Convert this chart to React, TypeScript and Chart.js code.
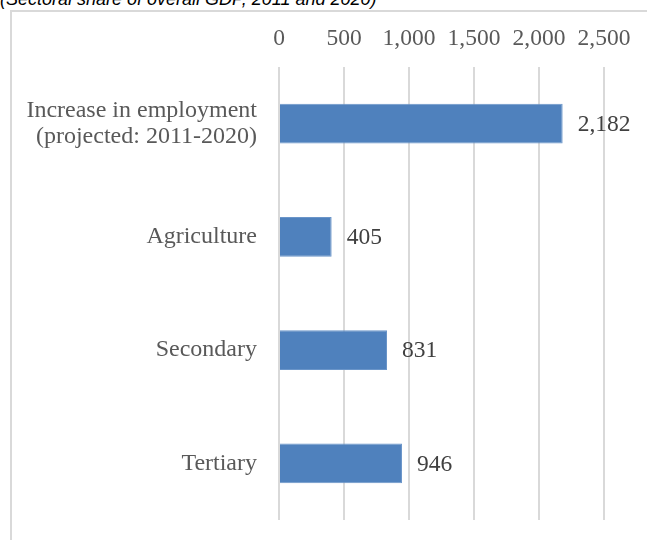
import React, { useEffect, useRef } from "react";
import { Chart, registerables } from "chart.js";

Chart.register(...registerables);

const categories: (string | string[])[] = [
  ["Increase in employment", "(projected: 2011-2020)"],
  "Agriculture",
  "Secondary",
  "Tertiary",
];
const values = [2182, 405, 831, 946];
const xTicks = [0, 500, 1000, 1500, 2000, 2500];
const titleText = "(Sectoral share of overall GDP, 2011 and 2020)";

const SERIF = "'Liberation Serif', 'Times New Roman', serif";

const valueLabels = {
  id: "valueLabels",
  afterDatasetsDraw(chart: any) {
    const ctx = chart.ctx;
    const meta = chart.getDatasetMeta(0);
    ctx.save();
    ctx.font = `23.5px ${SERIF}`;
    ctx.fillStyle = "#404040";
    ctx.textAlign = "left";
    ctx.textBaseline = "middle";
    meta.data.forEach((bar: any, i: number) => {
      const v = chart.data.datasets[0].data[i] as number;
      ctx.fillText(v.toLocaleString("en-US"), bar.x + 15, bar.y + 1);
    });
    ctx.restore();
  },
};

export default function App() {
  const ref = useRef<HTMLCanvasElement>(null);
  useEffect(() => {
    if (!ref.current) return;
    const chart = new Chart(ref.current, {
      type: "bar",
      data: {
        labels: categories,
        datasets: [
          {
            data: values,
            backgroundColor: "#4f81bd",
            borderColor: "#6a95c9",
            borderWidth: 1,
            barPercentage: 0.353,
            categoryPercentage: 1,
          },
        ],
      },
      options: {
        indexAxis: "y",
        animation: false,
        responsive: false,
        maintainAspectRatio: false,
        layout: { padding: { left: 0, right: 43, top: 0, bottom: 20 } },
        plugins: {
          legend: { display: false },
          tooltip: { enabled: false },
          title: { display: false },
        },
        scales: {
          x: {
            position: "top",
            min: 0,
            max: 2500,
            afterBuildTicks: (scale: any) => {
              scale.ticks = xTicks.map((v) => ({ value: v }));
            },
            afterFit: (scale: any) => {
              scale.height = 67;
              scale.paddingLeft = 0;
              scale.paddingRight = 0;
            },
            grid: { color: "#d9d9d9", lineWidth: 2, drawTicks: false },
            border: { display: false },
            ticks: {
              padding: 14,
              color: "#595959",
              font: { family: SERIF, size: 23.5 },
              callback: (v: any) => Number(v).toLocaleString("en-US"),
            },
          },
          y: {
            afterFit: (scale: any) => {
              scale.width = 279;
              scale.paddingTop = 0;
              scale.paddingBottom = 0;
            },
            grid: { display: false, drawTicks: false },
            border: { display: false },
            ticks: {
              padding: 22,
              color: "#595959",
              font: { family: SERIF, size: 24, lineHeight: 1.1 },
            },
          },
        },
      },
      plugins: [valueLabels],
    });
    return () => chart.destroy();
  }, []);

  return (
    <div
      style={{
        position: "absolute",
        left: 0,
        top: 0,
        width: 647,
        height: 540,
        overflow: "hidden",
        background: "#ffffff",
      }}
    >
      <div
        style={{
          position: "absolute",
          left: 10,
          top: 10,
          width: 637,
          height: 530,
          borderLeft: "2px solid #d9d9d9",
          borderTop: "2px solid #d9d9d9",
          boxSizing: "border-box",
        }}
      />
      <div
        style={{
          position: "absolute",
          left: 0,
          top: -10,
          fontFamily: "'Liberation Sans', Arial, sans-serif",
          fontStyle: "italic",
          fontSize: 18,
          lineHeight: "18px",
          color: "#000",
          whiteSpace: "nowrap",
        }}
      >
        {titleText}
      </div>
      <canvas
        ref={ref}
        width={647}
        height={540}
        style={{ position: "absolute", left: 0, top: 0, width: 647, height: 540 }}
      />
    </div>
  );
}
